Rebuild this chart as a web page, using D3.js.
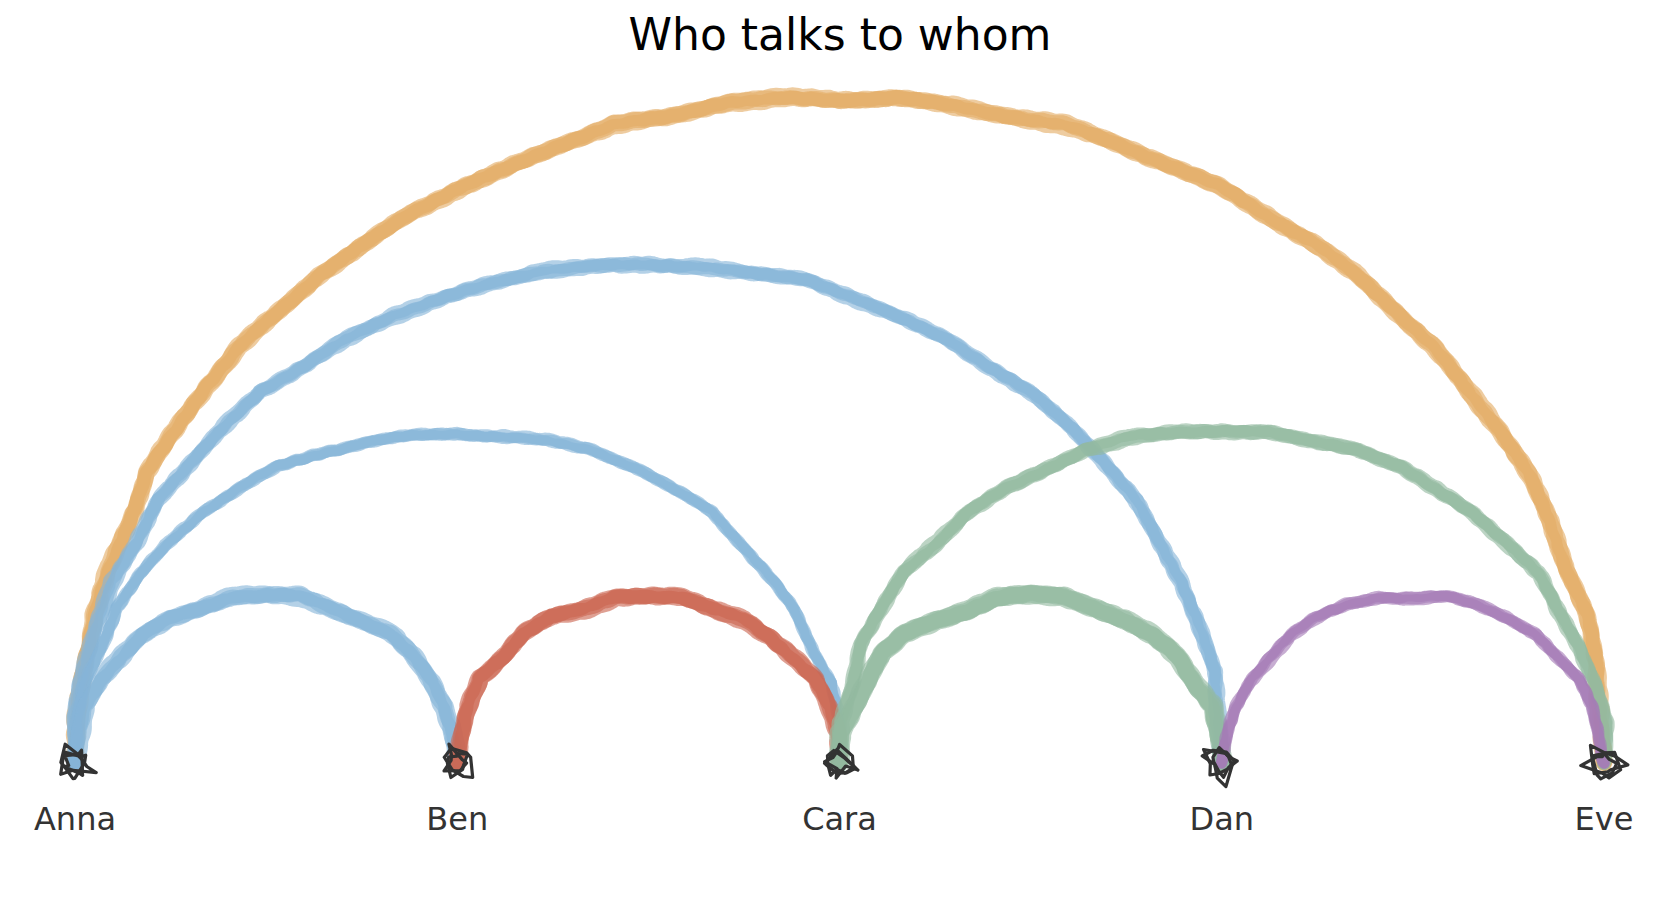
<!DOCTYPE html>
<html lang="en">
<head>
    <meta charset="UTF-8">
    <script src="https://d3js.org/d3.v7.min.js"></script>
    <title>Who talks to whom</title>
    <style>
        body { margin: 0; background: white; }
        text { font-family: "DejaVu Sans", sans-serif; }
    </style>
</head>
<body>
<script>
    // people along the baseline
    var nodes = ["Anna", "Ben", "Cara", "Dan", "Eve"];
    // who talks to whom (drawing order), and how much
    var linkSource = ["Eve", "Anna", "Anna", "Anna", "Ben", "Cara", "Cara", "Dan"];
    var linkTarget = ["Anna", "Dan", "Cara", "Ben", "Cara", "Eve", "Dan", "Eve"];
    var linkWeight = [5, 4, 3, 5, 5, 4, 6, 3];

    var canvasWidth = 1680;
    var canvasHeight = 912;
    var baseY = 763;

    var svg = d3.select("body").append("svg")
        .attr("width", canvasWidth)
        .attr("height", canvasHeight);

    var xScale = d3.scaleLinear().domain([0, nodes.length - 1]).range([75, 1604]);
    // arc height in units of node spacing (radius = half the gap)
    var yScale = d3.scaleLinear().domain([0, 2]).range([baseY, 98]);
    var widthScale = d3.scaleLinear().domain([3, 6]).range([12, 19]);
    var color = d3.scaleOrdinal()
        .domain(nodes)
        .range(["#86b4d8", "#cc6650", "#93ba9f", "#a57bb7", "#e4ad66"]);

    // deterministic noise for the hand drawn look
    function hash(n) {
        var s = Math.sin(n * 127.1 + 311.7) * 43758.5453;
        return s - Math.floor(s);
    }

    // wobble a pixel polyline sideways, like a sketchy pen
    function sketch(pts, seed, amp, len, amp2, len2) {
        var out = [];
        var p1 = hash(seed) * 6.283, p2 = hash(seed + 0.37) * 6.283;
        var step = 2, c = 0;
        for (var i = 0; i < pts.length - 1; i++) {
            var a = pts[i], b = pts[i + 1];
            var dx = b[0] - a[0], dy = b[1] - a[1];
            var d = Math.sqrt(dx * dx + dy * dy);
            if (d === 0) continue;
            var nx = -dy / d, ny = dx / d;
            var n = Math.max(1, Math.round(d / step));
            for (var k = 0; k < n; k++) {
                var t = k / n;
                c++;
                p1 += step * 2 * Math.PI / len * Math.pow(2, hash(seed * 13 + c * 0.71) * 2 - 1);
                p2 += step * 2 * Math.PI / len2 * Math.pow(2, hash(seed * 29 + c * 0.53) * 2 - 1);
                var off = amp * Math.sin(p1) + amp2 * Math.sin(p2);
                out.push([a[0] + dx * t + nx * off, a[1] + dy * t + ny * off]);
            }
        }
        out.push(pts[pts.length - 1]);
        return out;
    }

    var line = d3.line();

    var links = linkSource.map(function (s, i) {
        return {source: s, target: linkTarget[i], weight: linkWeight[i]};
    });

    var arcG = svg.append("g");
    links.forEach(function (l, li) {
        var i = nodes.indexOf(l.source), j = nodes.indexOf(l.target);
        var lo = Math.min(i, j), hi = Math.max(i, j);
        var mid = (lo + hi) / 2, r = (hi - lo) / 2;
        var segs = Math.round(10 + 16 * r);
        var w = widthScale(l.weight);
        for (var c = 0; c < 3; c++) {
            var seed = li * 10 + c + 1;
            // polyline around the arc, corners nudged a little
            var pts = d3.range(segs + 1).map(function (k) {
                var th = Math.PI - Math.PI * k / segs;
                var px = xScale(mid + r * Math.cos(th)), py = yScale(r * Math.sin(th));
                if (k === 0 || k === segs) return [px, py];
                var j1 = (hash(li * 97 + k * 3.1) - 0.5) * 7 + (hash(seed * 31 + k) - 0.5) * 3;
                return [px - Math.cos(th) * j1, py + Math.sin(th) * j1];
            });
            arcG.append("path")
                .attr("d", line(sketch(pts, seed, 0.6, 22, 1.4, 160)))
                .attr("fill", "none")
                .attr("stroke", color(l.source))
                .attr("stroke-width", w * (1 - c * 0.08))
                .attr("stroke-opacity", 0.62)
                .attr("stroke-linecap", "round")
                .attr("stroke-linejoin", "round");
        }
    });

    // sketchy node markers
    var markG = svg.append("g");
    nodes.forEach(function (name, i) {
        for (var c = 0; c < 3; c++) {
            var n = 8;
            var pts = d3.range(n + 1).map(function (k) {
                var seed = i * 50 + c * 17 + (k % n);
                var a = (k % n) / n * 2 * Math.PI + (hash(seed) - 0.5) * 0.9 + c * 0.4;
                var rr = 11 + (hash(seed + 0.5) - 0.5) * 10;
                if (hash(seed + 0.9) > 0.82) rr += 8;
                return [xScale(i) + rr * Math.cos(a), baseY + rr * Math.sin(a)];
            });
            markG.append("path")
                .attr("d", line(pts))
                .attr("fill", "none")
                .attr("stroke", "#333333")
                .attr("stroke-width", 3.2)
                .attr("stroke-linejoin", "round")
                .attr("stroke-linecap", "round");
        }
    });

    svg.append("g").selectAll("text")
        .data(nodes).enter().append("text")
        .attr("x", function (d, i) { return xScale(i); })
        .attr("y", 830)
        .attr("text-anchor", "middle")
        .attr("font-size", "32px")
        .attr("fill", "#333333")
        .text(function (d) { return d; });

    svg.append("text")
        .attr("x", canvasWidth / 2)
        .attr("y", 50)
        .attr("text-anchor", "middle")
        .attr("font-size", "44px")
        .attr("fill", "#000000")
        .text("Who talks to whom");
</script>
</body>
</html>
